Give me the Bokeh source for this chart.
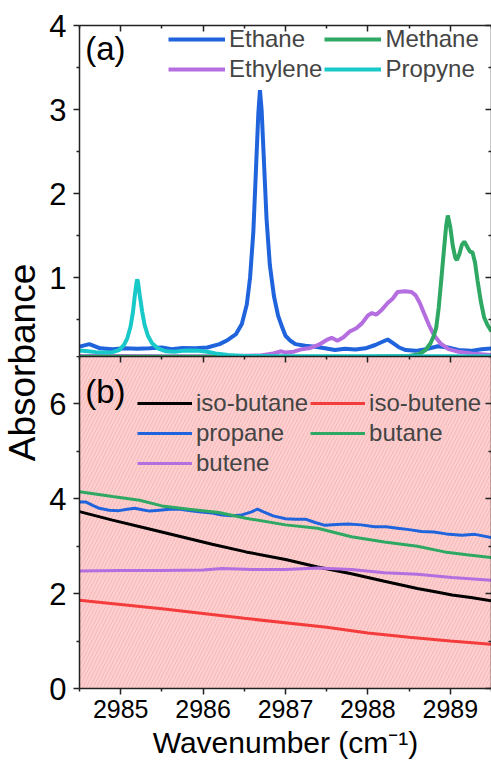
import math
from bokeh.plotting import figure
from bokeh.models import (Range1d, LinearAxis, FixedTicker, Legend, LegendItem,
                          BoxAnnotation, Label)
from bokeh.layouts import row, column
from bokeh.embed import file_html
from bokeh.resources import INLINE

FONT = "Liberation Sans"

# ---------------- panel (a) data ----------------
ethane_x = [2984.50, 2984.62, 2984.75, 2984.90, 2985.05, 2985.20, 2985.35, 2985.50, 2985.62,
            2985.75, 2985.90, 2986.05, 2986.20, 2986.30, 2986.40, 2986.47, 2986.53, 2986.57,
            2986.61, 2986.64, 2986.67, 2986.69, 2986.71, 2986.74, 2986.77, 2986.81, 2986.86,
            2986.91, 2986.96, 2987.00, 2987.06, 2987.12, 2987.24, 2987.36, 2987.48, 2987.60,
            2987.72, 2987.85, 2987.97, 2988.09, 2988.17, 2988.24, 2988.31, 2988.38, 2988.46,
            2988.58, 2988.70, 2988.85, 2988.97, 2989.10, 2989.25, 2989.38, 2989.50]
ethane_y = [0.18, 0.21, 0.16, 0.15, 0.16, 0.155, 0.16, 0.17, 0.15,
            0.165, 0.16, 0.17, 0.21, 0.26, 0.33, 0.45, 0.68, 1.00,
            1.55, 2.25, 2.95, 3.23, 3.00, 2.35, 1.70, 1.15, 0.78,
            0.55, 0.41, 0.31, 0.25, 0.21, 0.19, 0.18, 0.16, 0.14,
            0.155, 0.145, 0.16, 0.20, 0.235, 0.265, 0.22, 0.17, 0.14,
            0.13, 0.15, 0.185, 0.17, 0.14, 0.13, 0.15, 0.16]

ethylene_x = [2984.50, 2985.00, 2985.50, 2986.00, 2986.40, 2986.70, 2986.85, 2986.95, 2987.00,
              2987.10, 2987.20, 2987.30, 2987.40, 2987.50, 2987.56, 2987.63, 2987.70, 2987.78,
              2987.86, 2987.93, 2988.00, 2988.05, 2988.10, 2988.17, 2988.24, 2988.30, 2988.36,
              2988.45, 2988.53, 2988.58, 2988.63, 2988.68, 2988.74, 2988.80, 2988.88, 2988.98,
              2989.10, 2989.26, 2989.50]
ethylene_y = [0.07, 0.07, 0.065, 0.065, 0.07, 0.075, 0.10, 0.125, 0.11,
              0.12, 0.15, 0.165, 0.20, 0.26, 0.285, 0.25, 0.29, 0.36,
              0.40, 0.46, 0.55, 0.58, 0.56, 0.62, 0.70, 0.75, 0.83,
              0.84, 0.83, 0.79, 0.70, 0.58, 0.44, 0.32, 0.22, 0.15,
              0.12, 0.10, 0.08]

methane_x = [2984.50, 2986.00, 2988.00, 2988.50, 2988.62, 2988.70, 2988.76, 2988.80, 2988.83,
             2988.86, 2988.89, 2988.92, 2988.95, 2988.97, 2989.00, 2989.03, 2989.06, 2989.08,
             2989.11, 2989.14, 2989.17, 2989.21, 2989.24, 2989.27, 2989.30, 2989.33, 2989.37,
             2989.41, 2989.45, 2989.50]
methane_y = [0.06, 0.06, 0.06, 0.07, 0.09, 0.14, 0.22, 0.31, 0.41,
             0.65, 0.97, 1.30, 1.62, 1.74, 1.60, 1.38, 1.24, 1.21,
             1.28, 1.39, 1.43, 1.36, 1.31, 1.30, 1.18, 0.97, 0.72,
             0.53, 0.44, 0.36]

propyne_x = [2984.50, 2984.60, 2984.70, 2984.80, 2984.90, 2984.98, 2985.04, 2985.08, 2985.12,
             2985.15, 2985.17, 2985.19, 2985.20, 2985.21, 2985.23, 2985.26, 2985.29, 2985.33,
             2985.38, 2985.45, 2985.55, 2985.65, 2985.75, 2985.85, 2985.95, 2986.05, 2986.15,
             2986.30, 2986.50, 2987.00, 2987.50, 2988.00, 2988.50, 2989.00, 2989.50]
propyne_y = [0.135, 0.125, 0.115, 0.11, 0.115, 0.14, 0.20, 0.28, 0.42,
             0.60, 0.78, 0.93, 0.98, 0.95, 0.80, 0.60, 0.44, 0.31,
             0.22, 0.16, 0.125, 0.12, 0.13, 0.135, 0.13, 0.12, 0.10,
             0.08, 0.07, 0.065, 0.065, 0.065, 0.065, 0.065, 0.065]

# ---------------- panel (b) data ----------------
isobutane_x = [2984.50, 2984.90, 2985.31, 2985.71, 2986.11, 2986.52, 2987.00, 2987.39, 2987.80,
               2988.20, 2988.60, 2988.85, 2989.02, 2989.25, 2989.50]
isobutane_y = [3.73, 3.55, 3.38, 3.21, 3.04, 2.88, 2.72, 2.56, 2.42,
               2.26, 2.11, 2.03, 1.97, 1.92, 1.85]

isobutene_x = [2984.50, 2985.50, 2986.50, 2987.50, 2988.00, 2988.50, 2989.00, 2989.50]
isobutene_y = [1.86, 1.68, 1.48, 1.29, 1.17, 1.08, 1.00, 0.93]

propane_x = [2984.50, 2984.58, 2984.66, 2984.74, 2984.86, 2984.98, 2985.08, 2985.17, 2985.26,
             2985.35, 2985.47, 2985.59, 2985.72, 2985.85, 2985.98, 2986.11, 2986.23, 2986.35,
             2986.47, 2986.58, 2986.66, 2986.74, 2986.85, 2987.00, 2987.12, 2987.24, 2987.36,
             2987.48, 2987.62, 2987.76, 2987.92, 2988.08, 2988.22, 2988.36, 2988.50, 2988.65,
             2988.80, 2988.95, 2989.14, 2989.30, 2989.50]
propane_y = [3.93, 3.93, 3.86, 3.80, 3.76, 3.75, 3.78, 3.80, 3.77,
             3.74, 3.76, 3.78, 3.78, 3.75, 3.72, 3.70, 3.66, 3.64,
             3.66, 3.72, 3.78, 3.72, 3.64, 3.58, 3.57, 3.57, 3.50,
             3.44, 3.46, 3.47, 3.45, 3.41, 3.41, 3.38, 3.35, 3.31,
             3.30, 3.26, 3.23, 3.25, 3.18]

butane_x = [2984.50, 2984.90, 2985.23, 2985.50, 2985.83, 2986.19, 2986.52, 2987.00, 2987.39,
            2987.80, 2988.20, 2988.60, 2988.93, 2989.20, 2989.50]
butane_y = [4.15, 4.05, 3.97, 3.85, 3.78, 3.71, 3.59, 3.45, 3.38,
            3.20, 3.09, 3.00, 2.88, 2.82, 2.76]

butene_x = [2984.50, 2985.00, 2985.50, 2986.00, 2986.23, 2986.60, 2987.00, 2987.39, 2987.80,
            2988.20, 2988.60, 2989.02, 2989.50]
butene_y = [2.48, 2.49, 2.49, 2.50, 2.53, 2.51, 2.51, 2.54, 2.51,
            2.44, 2.41, 2.34, 2.28]

x_ticks = [2985, 2986, 2987, 2988, 2989]
x_minor = [2984.5, 2985.5, 2986.5, 2987.5, 2988.5, 2989.5]
top_ticks = [1, 2, 3, 4]
top_minor = [0.5, 1.5, 2.5, 3.5]
bot_ticks = [0, 2, 4, 6]
bot_minor = [1, 3, 5, 7]

C_BLUE = "#1f64dc"
C_GREEN = "#2ea862"
C_PURPLE = "#b46ee0"
C_CYAN = "#19c8c8"
C_RED = "#f53c3c"
C_BLACK = "#000000"

STRIP_W = 46
FIG_W = 491 - STRIP_W
LEFT_B = 79 - STRIP_W


def make_axis(ticks, minor, labels, t_in, t_out, size="31px", standoff=7):
    ax = LinearAxis(ticker=FixedTicker(ticks=ticks, minor_ticks=minor))
    ax.axis_line_width = 1.5
    ax.axis_line_color = "#222222"
    ax.major_tick_line_width = 1.5
    ax.minor_tick_line_width = 1.5
    ax.major_tick_line_color = "#222222"
    ax.minor_tick_line_color = "#222222"
    ax.major_tick_in = 6 if t_in else 0
    ax.major_tick_out = 6 if t_out else 0
    ax.minor_tick_in = 3 if t_in else 0
    ax.minor_tick_out = 3 if t_out else 0
    if labels:
        ax.major_label_text_font = FONT
        ax.major_label_text_font_size = size
        ax.major_label_text_color = "#000000"
        ax.major_label_standoff = standoff
    else:
        ax.major_label_overrides = {t: "" for t in ticks}
        ax.major_label_text_font_size = "0px"
        ax.major_label_standoff = 0
    return ax


def base_fig(height, y0, y1, mb_top, mb_bottom):
    p = figure(width=FIG_W, height=height, x_range=Range1d(2984.5, 2989.5),
               y_range=Range1d(y0, y1), output_backend="svg", toolbar_location=None,
               x_axis_location=None, y_axis_location=None,
               min_border_left=LEFT_B, min_border_right=0,
               min_border_top=mb_top, min_border_bottom=mb_bottom)
    p.outline_line_color = None
    p.xgrid.grid_line_color = None
    p.ygrid.grid_line_color = None
    p.background_fill_color = "white"
    p.border_fill_color = "white"
    return p


def style_legend(lg, fs, gw, lh, sp):
    lg.border_line_color = None
    lg.background_fill_alpha = 0
    lg.label_text_font = FONT
    lg.label_text_font_size = fs
    lg.glyph_width = gw
    lg.glyph_height = lh
    lg.label_height = lh
    lg.label_standoff = 4
    lg.spacing = sp
    lg.padding = 0
    lg.margin = 0


# ---------------- top panel ----------------
p1 = base_fig(356, 0.063, 4.0, 25, 0)
p1.add_layout(make_axis(top_ticks, top_minor, True, False, True), "left")
p1.add_layout(make_axis(top_ticks, top_minor, False, True, False), "right")
p1.add_layout(make_axis(x_ticks, x_minor, False, True, False), "above")
p1.add_layout(make_axis(x_ticks, x_minor, False, False, False), "below")

r_eth = p1.line(ethane_x, ethane_y, line_color=C_BLUE, line_width=4)
r_ethl = p1.line(ethylene_x, ethylene_y, line_color=C_PURPLE, line_width=4)
r_met = p1.line(methane_x, methane_y, line_color=C_GREEN, line_width=4)
r_pro = p1.line(propyne_x, propyne_y, line_color=C_CYAN, line_width=4)

lg1 = Legend(items=[LegendItem(label="Ethane", renderers=[r_eth]),
                    LegendItem(label="Ethylene", renderers=[r_ethl]),
                    LegendItem(label="Methane", renderers=[r_met]),
                    LegendItem(label="Propyne", renderers=[r_pro])],
             ncols=2, location=(89, 273))
style_legend(lg1, "24px", 57, 26, 2)
p1.add_layout(lg1)

p1.add_layout(Label(x=2984.57, y=3.73, text="(a)", text_font=FONT, text_font_size="33px",
                    text_baseline="middle", text_align="left", text_color="#000000"))

# ---------------- bottom panel ----------------
p2 = base_fig(414, 0.0, 7.0, 0, 82)
p2.add_layout(BoxAnnotation(fill_color="#ffcfcf", fill_alpha=1.0, line_color=None,
                            hatch_pattern="/", hatch_color="#e0a0a0", hatch_alpha=0.7,
                            hatch_scale=7, hatch_weight=0.7, level="underlay"))
xb = make_axis(x_ticks, x_minor, True, False, True, size="25px", standoff=5)
xb.axis_label = "Wavenumber (cm\u207b\u00b9)"
xb.axis_label_text_font = FONT
xb.axis_label_text_font_size = "30px"
xb.axis_label_text_font_style = "normal"
xb.axis_label_text_color = "#000000"
xb.axis_label_standoff = 5
p2.add_layout(xb, "below")
p2.add_layout(make_axis(bot_ticks, bot_minor, True, False, True), "left")
p2.add_layout(make_axis(bot_ticks, bot_minor, False, True, False), "right")
p2.add_layout(make_axis(x_ticks, x_minor, False, True, False), "above")

r_ib = p2.line(isobutane_x, isobutane_y, line_color=C_BLACK, line_width=3)
r_ie = p2.line(isobutene_x, isobutene_y, line_color=C_RED, line_width=3)
r_pp = p2.line(propane_x, propane_y, line_color=C_BLUE, line_width=3)
r_bu = p2.line(butane_x, butane_y, line_color=C_GREEN, line_width=3)
r_be = p2.line(butene_x, butene_y, line_color=C_PURPLE, line_width=3)

lg2 = Legend(items=[LegendItem(label="iso-butane", renderers=[r_ib]),
                    LegendItem(label="propane", renderers=[r_pp]),
                    LegendItem(label="butene", renderers=[r_be]),
                    LegendItem(label="iso-butene", renderers=[r_ie]),
                    LegendItem(label="butane", renderers=[r_bu])],
             ncols=2, location=(58, 211))
style_legend(lg2, "24px", 55, 28, 2)
p2.add_layout(lg2)

p2.add_layout(Label(x=2984.57, y=6.27, text="(b)", text_font=FONT, text_font_size="33px",
                    text_baseline="middle", text_align="left", text_color="#000000"))

# ---------------- y label strip ----------------
pl = figure(width=STRIP_W, height=770, x_range=Range1d(0, STRIP_W), y_range=Range1d(0, 770),
            output_backend="svg", toolbar_location=None,
            x_axis_location=None, y_axis_location=None, min_border=0)
pl.outline_line_color = None
pl.xgrid.grid_line_color = None
pl.ygrid.grid_line_color = None
pl.add_layout(Label(x=22, y=408, text="Absorbance", angle=math.pi / 2, text_font=FONT,
                    text_font_size="37px", text_align="center", text_baseline="middle",
                    text_color="#000000"))

layout = row(pl, column(p1, p2))
open("out.html", "w").write(file_html(layout, INLINE))
